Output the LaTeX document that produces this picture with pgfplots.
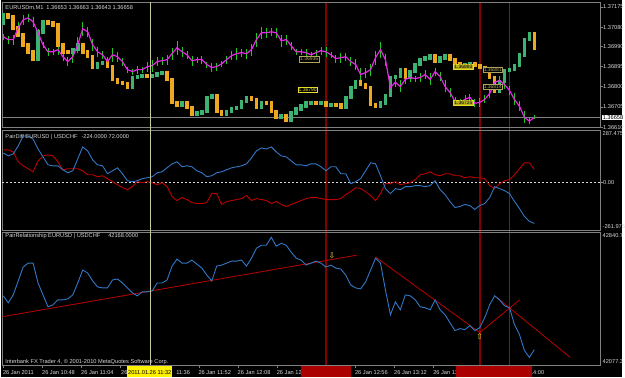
\documentclass[border=0pt]{standalone}
\usepackage{fontspec}
\setmainfont{Liberation Sans}
\newfontfamily\djv{DejaVu Sans}
\usepackage{pgfplots}
\usepackage{pgfplotstable}
\pgfplotsset{compat=1.18}
\definecolor{cgreen}{RGB}{60,179,113}
\definecolor{corange}{RGB}{238,168,32}
\definecolor{cbar}{RGB}{30,200,30}
\definecolor{cmag}{RGB}{230,40,230}
\definecolor{cblue}{RGB}{50,120,200}
\definecolor{cred}{RGB}{190,0,0}
\definecolor{cframe}{RGB}{128,128,128}
\definecolor{ctext}{RGB}{215,215,215}
\definecolor{cdred}{RGB}{130,0,0}
\definecolor{cbox}{RGB}{170,0,0}
\definecolor{ccross}{RGB}{200,200,160}
\definecolor{cyel}{RGB}{230,220,40}
\definecolor{ckhaki}{RGB}{175,165,90}
\newcommand\mt{\fontsize{5.7}{6.5}\selectfont}
\newcommand\mts{\fontsize{5}{6}\selectfont}

\pgfplotstableread{
m o c eu e
0 1.37100 1.37137 1.37035 0.00014
2.03 1.37137 1.37128 1.37021 0.00019
4.06 1.37128 1.37077 1.37021 0.00023
6.09 1.37077 1.37044 1.37077 0.00028
8.12 1.37044 1.36997 1.37114 0.00023
10.15 1.36997 1.36964 1.37123 0.00019
12.18 1.36964 1.36927 1.37105 0.00023
14.21 1.36927 1.37058 1.37053 0.00019
16.24 1.37058 1.37105 1.36997 0.00014
18.27 1.37105 1.37100 1.36964 0.00019
20.30 1.37100 1.37091 1.36964 0.00014
22.33 1.37091 1.36997 1.36974 0.00023
24.36 1.36997 1.36964 1.36941 0.00019
26.39 1.36964 1.36960 1.36918 0.00023
28.42 1.36960 1.36974 1.36941 0.00028
30.45 1.36974 1.36997 1.36997 0.00037
32.48 1.36997 1.36964 1.37072 0.00033
34.51 1.36964 1.36941 1.37058 0.00023
36.54 1.36941 1.36890 1.36997 0.00028
38.57 1.36890 1.36908 1.36964 0.00023
40.60 1.36908 1.36913 1.36950 0.00019
42.63 1.36913 1.36894 1.36918 0.00023
44.66 1.36894 1.36834 1.36950 0.00033
46.69 1.36834 1.36820 1.36941 0.00023
48.72 1.36820 1.36815 1.36918 0.00019
50.75 1.36815 1.36796 1.36880 0.00014
52.78 1.36796 1.36843 1.36871 0.00014
54.81 1.36843 1.36848 1.36880 0.00019
56.84 1.36848 1.36852 1.36880 0.00014
58.87 1.36852 1.36848 1.36894 0.00023
60.90 1.36848 1.36852 1.36899 0.00028
62.93 1.36852 1.36862 1.36918 0.00023
64.96 1.36862 1.36866 1.36922 0.00019
66.99 1.36866 1.36834 1.36927 0.00023
69.02 1.36834 1.36726 1.36955 0.00028
71.05 1.36726 1.36712 1.36983 0.00033
73.08 1.36712 1.36722 1.36964 0.00023
75.11 1.36722 1.36703 1.36950 0.00019
77.14 1.36703 1.36670 1.36922 0.00023
79.17 1.36670 1.36675 1.36927 0.00014
81.20 1.36675 1.36684 1.36927 0.00019
83.23 1.36684 1.36750 1.36904 0.00014
85.26 1.36750 1.36759 1.36890 0.00023
87.29 1.36759 1.36684 1.36894 0.00019
89.32 1.36684 1.36670 1.36908 0.00014
91.35 1.36670 1.36684 1.36927 0.00019
93.38 1.36684 1.36698 1.36946 0.00023
95.41 1.36698 1.36703 1.36955 0.00028
97.44 1.36703 1.36731 1.36960 0.00019
99.47 1.36731 1.36750 1.36955 0.00023
101.50 1.36750 1.36740 1.36974 0.00028
103.53 1.36740 1.36703 1.37021 0.00033
105.56 1.36703 1.36726 1.37053 0.00028
107.59 1.36726 1.36722 1.37053 0.00023
109.62 1.36722 1.36684 1.37058 0.00019
111.65 1.36684 1.36656 1.37053 0.00023
113.68 1.36656 1.36661 1.37016 0.00028
115.71 1.36661 1.36642 1.37021 0.00023
117.74 1.36642 1.36675 1.36993 0.00019
119.77 1.36675 1.36694 1.36964 0.00014
121.80 1.36694 1.36708 1.36964 0.00014
123.83 1.36708 1.36722 1.36960 0.00019
125.86 1.36722 1.36726 1.36950 0.00014
127.89 1.36726 1.36722 1.36960 0.00014
129.92 1.36722 1.36726 1.36969 0.00019
131.95 1.36726 1.36712 1.36964 0.00023
133.98 1.36712 1.36717 1.36950 0.00014
136.01 1.36717 1.36714 1.36932 0.00019
138.04 1.36714 1.36703 1.36936 0.00023
140.07 1.36703 1.36750 1.36941 0.00019
142.10 1.36750 1.36796 1.36918 0.00023
144.13 1.36796 1.36824 1.36904 0.00028
146.16 1.36824 1.36810 1.36857 0.00033
148.19 1.36810 1.36796 1.36866 0.00023
150.22 1.36796 1.36717 1.36880 0.00028
152.25 1.36717 1.36708 1.36936 0.00033
154.28 1.36708 1.36722 1.36974 0.00037
156.31 1.36722 1.36759 1.36927 0.00028
158.34 1.36759 1.36843 1.36796 0.00037
160.37 1.36843 1.36848 1.36820 0.00023
162.40 1.36848 1.36880 1.36801 0.00028
164.43 1.36880 1.36843 1.36834 0.00023
166.46 1.36843 1.36871 1.36843 0.00019
168.49 1.36871 1.36904 1.36838 0.00014
170.52 1.36904 1.36927 1.36843 0.00019
172.55 1.36927 1.36936 1.36857 0.00023
174.58 1.36936 1.36946 1.36834 0.00028
176.61 1.36946 1.36918 1.36871 0.00019
178.64 1.36918 1.36936 1.36848 0.00023
180.67 1.36936 1.36946 1.36801 0.00028
182.70 1.36946 1.36927 1.36773 0.00023
184.73 1.36927 1.36908 1.36731 0.00019
186.76 1.36908 1.36899 1.36726 0.00014
188.79 1.36899 1.36904 1.36740 0.00019
190.82 1.36904 1.36908 1.36750 0.00014
192.85 1.36908 1.36899 1.36722 0.00019
194.88 1.36899 1.36890 1.36726 0.00023
196.91 1.36890 1.36880 1.36740 0.00019
198.94 1.36880 1.36843 1.36768 0.00023
200.97 1.36843 1.36778 1.36820 0.00028
203.00 1.36778 1.36824 1.36829 0.00023
205.03 1.36824 1.36876 1.36810 0.00019
207.06 1.36876 1.36880 1.36782 0.00023
209.09 1.36880 1.36899 1.36740 0.00028
211.12 1.36899 1.36950 1.36708 0.00023
213.15 1.36950 1.37021 1.36656 0.00028
215.18 1.37021 1.37049 1.36638 0.00014
217.21 1.37049 1.36983 1.36656 0.00009
}\pone

\pgfplotstableread{
m blue red
0 162.3 178.7
2.03 146.0 178.7
4.06 156.9 167.8
6.09 200.4 113.4
8.12 254.8 91.6
10.15 254.8 75.3
12.18 238.5 59.0
14.21 184.1 118.8
16.24 140.6 146.0
18.27 97.1 151.5
20.30 91.6 146.0
22.33 91.6 113.4
24.36 69.9 69.9
26.39 53.5 75.3
28.42 64.4 75.3
30.45 129.7 75.3
32.48 195.0 64.4
34.51 173.2 42.7
36.54 124.3 42.7
38.57 97.1 31.8
40.60 91.6 37.2
42.63 48.1 20.9
44.66 64.4 4.6
46.69 80.7 -11.7
48.72 48.1 -28.1
50.75 10.0 -38.9
52.78 4.6 -22.6
54.81 10.0 4.6
56.84 20.9 -0.9
58.87 26.3 4.6
60.90 31.8 -0.9
62.93 53.5 -11.7
64.96 59.0 -0.9
66.99 80.7 -22.6
69.02 102.5 -77.0
71.05 113.4 -98.8
73.08 86.2 -82.5
75.11 91.6 -93.3
77.14 86.2 -109.7
79.17 64.4 -115.1
81.20 53.5 -115.1
83.23 31.8 -109.7
85.26 37.2 -60.7
87.29 53.5 -60.7
89.32 59.0 -120.5
91.35 69.9 -104.2
93.38 80.7 -98.8
95.41 86.2 -93.3
97.44 91.6 -87.9
99.47 102.5 -71.6
101.50 135.1 -98.8
103.53 173.2 -87.9
105.56 189.5 -93.3
107.59 184.1 -98.8
109.62 195.0 -115.1
111.65 167.8 -104.2
113.68 146.0 -120.5
115.71 140.6 -131.4
117.74 118.8 -120.5
119.77 97.1 -109.7
121.80 97.1 -98.8
123.83 91.6 -87.9
125.86 102.5 -82.5
127.89 102.5 -82.5
129.92 86.2 -87.9
131.95 64.4 -93.3
133.98 86.2 -93.3
136.01 86.2 -93.3
138.04 48.1 -87.9
140.07 48.1 -66.1
142.10 -6.3 -49.8
144.13 4.6 -28.1
146.16 20.9 -33.5
148.19 64.4 -49.8
150.22 107.9 -71.6
152.25 102.5 -98.8
154.28 37.2 -60.7
156.31 -33.5 -6.3
158.34 -60.7 -6.3
160.37 -33.5 4.6
162.40 -38.9 -11.7
164.43 -22.6 -6.3
166.46 -22.6 -0.9
168.49 -17.2 15.5
170.52 -17.2 42.7
172.55 -22.6 48.1
174.58 -17.2 59.0
176.61 10.0 42.7
178.64 -38.9 37.2
180.67 -66.1 48.1
182.70 -104.2 48.1
184.73 -136.9 37.2
186.76 -131.4 37.2
188.79 -120.5 26.3
190.82 -126.0 31.8
192.85 -147.7 26.3
194.88 -126.0 26.3
196.91 -115.1 20.9
198.94 -82.5 -17.2
200.97 -22.6 -33.5
203.00 -33.5 -6.3
205.03 -44.4 10.0
207.06 -60.7 15.5
209.09 -104.2 42.7
211.12 -142.3 75.3
213.15 -185.8 107.9
215.18 -213.0 107.9
217.21 -224.0 72.0
}\ptwo

\pgfplotstableread{
m rel
0 42476.1
2.03 42436.2
4.06 42481.8
6.09 42561.6
8.12 42641.3
10.15 42664.1
12.18 42664.1
14.21 42550.2
16.24 42481.8
18.27 42413.4
20.30 42424.8
22.33 42453.3
24.36 42453.3
26.39 42459.0
28.42 42481.8
30.45 42550.2
32.48 42624.2
34.51 42607.1
36.54 42561.6
38.57 42527.4
40.60 42521.7
42.63 42521.7
44.66 42567.3
46.69 42573.0
48.72 42550.2
50.75 42521.7
52.78 42493.2
54.81 42476.1
56.84 42498.9
58.87 42498.9
60.90 42504.6
62.93 42550.2
64.96 42550.2
66.99 42567.3
69.02 42647.0
71.05 42686.9
73.08 42664.1
75.11 42664.1
77.14 42681.2
79.17 42658.4
81.20 42635.6
83.23 42595.7
85.26 42561.6
87.29 42647.0
89.32 42652.7
91.35 42664.1
93.38 42675.5
95.41 42675.5
97.44 42681.2
99.47 42647.0
101.50 42692.6
103.53 42749.5
105.56 42766.6
107.59 42766.6
109.62 42812.2
111.65 42760.9
113.68 42778.0
115.71 42766.6
117.74 42726.8
119.77 42692.6
121.80 42681.2
123.83 42652.7
125.86 42664.1
127.89 42675.5
129.92 42664.1
131.95 42641.3
133.98 42652.7
136.01 42635.6
138.04 42629.9
140.07 42595.7
142.10 42538.8
144.13 42521.7
146.16 42516.0
148.19 42555.9
150.22 42624.2
152.25 42692.6
154.28 42664.1
156.31 42510.3
158.34 42367.8
160.37 42441.9
162.40 42396.3
164.43 42481.8
166.46 42476.1
168.49 42453.3
170.52 42413.4
172.55 42407.7
174.58 42396.3
176.61 42453.3
178.64 42396.3
180.67 42367.8
182.70 42322.3
184.73 42276.7
186.76 42288.1
188.79 42282.4
190.82 42305.2
192.85 42276.7
194.88 42293.8
196.91 42350.7
198.94 42424.8
200.97 42476.1
203.00 42453.3
205.03 42419.1
207.06 42407.7
209.09 42310.9
211.12 42253.9
213.15 42162.8
215.18 42122.9
217.21 42168.0
}\pthree

\pgfplotsset{
  mtaxis/.style={
    scale only axis, width=602pt, anchor=north west,
    xmin=-0.41, xmax=244.06,
    axis line style={cframe, line width=0.8pt},
    clip=false,
    tick align=outside, major tick length=3pt,
    tick style={cframe, line width=0.6pt},
    tick label style={font=\mt, text=ctext},
    ytick pos=right, yticklabel pos=right,
    yticklabel style={anchor=west, inner sep=0pt, xshift=0pt},
    xtick=\empty,
  }
}

\begin{document}
\begin{tikzpicture}[x=1pt,y=1pt]
\fill[black] (0,0) rectangle (625,-380);
% vertical objects
\draw[cdred, line width=2pt] (327,-2) -- (327,-368);
\draw[cdred, line width=2pt] (482,-2) -- (482,-368);
\draw[cred, line width=1pt] (512,-2) -- (512,-368);

% ---------- panel 1: prices ----------
\begin{axis}[mtaxis, at={(1pt,-2pt)}, height=126pt,
  ymin=1.36610, ymax=1.37198,
  ytick={1.36610,1.36705,1.36800,1.36895,1.36990,1.37080,1.37175},
  yticklabels={1.36610,1.36705,1.36800,1.36895,1.36990,1.37080,1.37175}]
\draw[cframe, line width=0.6pt] (axis cs:-0.41,1.36658) -- (axis cs:244.06,1.36658);
\addplot[draw=none, mark=none, forget plot,
  error bars/.cd, y dir=both, y explicit, error mark=none,
  error bar style={draw=cbar, line width=0.7pt}]
  table[x=m, y=eu, y error=e] {\pone};
\addplot[cgreen, line width=3.6pt, line cap=rect, forget plot,
  quiver={u=0, v=\thisrow{c}-\thisrow{o}},
  restrict expr to domain={\thisrow{c}-\thisrow{o}}{0:1}]
  table[x=m, y=o] {\pone};
\addplot[corange, line width=3.6pt, line cap=rect, forget plot,
  quiver={u=0, v=\thisrow{c}-\thisrow{o}},
  restrict expr to domain={\thisrow{c}-\thisrow{o}}{-1:0}]
  table[x=m, y=o] {\pone};
\addplot[cmag, line width=1.2pt, mark=none] table[x=m, y=eu] {\pone};
% price labels of objects
\node[draw=ckhaki, fill=black, text=ckhaki, font=\mts, inner sep=0.8pt] at (axis cs:125.1,1.36929) {1.36936};
\node[draw=cyel, fill=black, text=cyel, font=\mts, inner sep=0.8pt] at (axis cs:124.5,1.36787) {1.36790};
\node[draw=cyel, fill=cyel!80!black, text=black, font=\mts, inner sep=0.8pt] at (axis cs:188.2,1.36894) {1.36893};
\node[draw=ckhaki, fill=black, text=ckhaki, font=\mts, inner sep=0.8pt] at (axis cs:200.2,1.36878) {1.36881};
\node[draw=ckhaki, fill=black, text=ckhaki, font=\mts, inner sep=0.8pt] at (axis cs:200.2,1.36799) {1.36814};
\node[draw=cyel, fill=cyel!80!black, text=black, font=\mts, inner sep=0.8pt] at (axis cs:188.2,1.36724) {1.36725};
\end{axis}

% ---------- panel 2: PairDiff ----------
\begin{axis}[mtaxis, at={(1pt,-131pt)}, height=101pt,
  ymin=-261.975, ymax=287.475,
  ytick={0}, yticklabels={0.00}]
\draw[ctext, dash pattern=on 2pt off 2pt, line width=0.6pt] (axis cs:-0.41,0) -- (axis cs:244.06,0);
\addplot[cred, line width=0.9pt, mark=none] table[x=m, y=red] {\ptwo};
\addplot[cblue, line width=0.9pt, mark=none] table[x=m, y=blue] {\ptwo};
\end{axis}

% ---------- panel 3: PairRelationship ----------
\begin{axis}[mtaxis, at={(1pt,-234pt)}, height=134pt,
  ymin=42077.3, ymax=42840.7, ytick=\empty,
  xtick={0,16,32,48,64,80,96,112,128,144,160,176,192,208},
  xticklabels={26 Jan 2011,26 Jan 10:48,26 Jan 11:04,,,26 Jan 11:52,26 Jan 12:08,26 Jan 12:24,26 Jan 12:40,26 Jan 12:56,26 Jan 13:12,26 Jan 13:28,26 Jan 13:44,26 Jan 14:00},
  xtick pos=bottom,
  xticklabel style={anchor=north west, inner sep=0pt, xshift=-0.5pt, yshift=-2.5pt}]
\addplot[cred, line width=0.8pt, mark=none] coordinates {(-0.41,42356.4) (144.6,42709.7)};
\addplot[cred, line width=0.8pt, mark=none] coordinates {(152.3,42698.3) (194.9,42265.3)};
\addplot[cred, line width=0.8pt, mark=none] coordinates {(201.0,42476.1) (231.9,42122.9)};
\addplot[cred, line width=0.8pt, mark=none] coordinates {(194.9,42265.3) (211.2,42453.3)};
\addplot[cblue, line width=0.9pt, mark=none] table[x=m, y=rel] {\pthree};
\node[text=cyel, font=\djv\fontsize{8}{8}\selectfont, inner sep=0pt] at (axis cs:134.4,42704) {⇩};
\node[text=cyel, font=\djv\fontsize{8}{8}\selectfont, inner sep=0pt] at (axis cs:194.9,42242) {⇧};
\end{axis}

% crosshair
\draw[ccross, line width=0.7pt] (150,-2) -- (150,-368);

% titles
\node[anchor=base west, inner sep=0pt, font=\mt, text=ctext] at (4,-9.5) {EURUSDm,M1\hspace{3pt}1.36653 1.36663 1.36643 1.36658};
\node[anchor=base west, inner sep=0pt, font=\mt, text=ctext] at (4,-140) {PairDiff EURUSD | USDCHF\hspace{4pt}-224.0000 72.0000};
\node[anchor=base west, inner sep=0pt, font=\mt, text=ctext] at (4,-239.5) {PairRelationship EURUSD | USDCHF\hspace{8pt}42168.0000};
\node[anchor=base west, inner sep=0pt, font=\mt, text=ctext] at (4,-366) {Interbank FX Trader 4, © 2001-2010 MetaQuotes Software Corp.};

% right-side labels
\node[anchor=west, fill=white, text=black, font=\mt, inner sep=0.6pt] at (605,-118) {1.36658};
\node[anchor=north west, inner sep=0pt, font=\mt, text=ctext] at (605.5,-132.5) {287.475};
\node[anchor=south west, inner sep=0pt, font=\mt, text=ctext] at (605.5,-230.5) {-261.975};
\node[anchor=north west, inner sep=0pt, font=\mt, text=ctext] at (605.5,-235.5) {42840.7};
\node[anchor=south west, inner sep=0pt, font=\mt, text=ctext] at (605.5,-366.5) {42077.3};

% time-axis: labels partly hidden by the crosshair box
\node[anchor=north west, inner sep=0pt, font=\mt, text=ctext] at (120.5,-373.5) {26};
\node[anchor=north west, inner sep=0pt, font=\mt, text=ctext] at (176,-373.5) {11:36};
\fill[yellow] (127,-369) rectangle (172,-380);
\node[font=\mt, text=black, inner sep=0pt] at (149.5,-375) {2011.01.26 11:32};
\fill[cbox] (302,-369) rectangle (352,-380);
\fill[cbox] (458,-369) rectangle (508,-380);
\fill[cbox] (485,-369) rectangle (535,-380);
\end{tikzpicture}
\end{document}
